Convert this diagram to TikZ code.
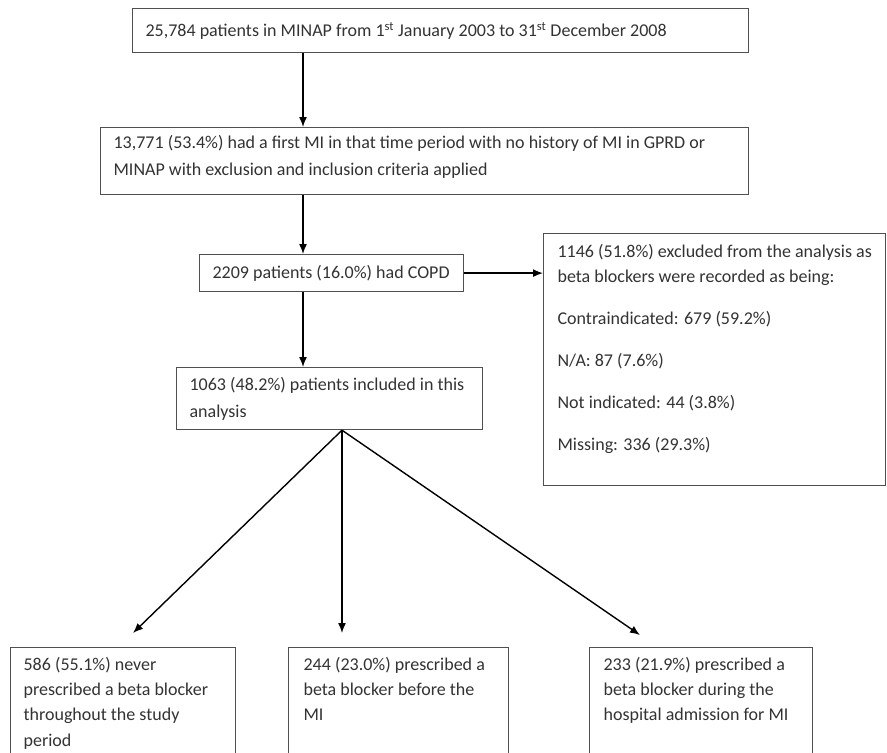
\documentclass[tikz,border=0pt]{standalone}
\usepackage{fontspec}
\setmainfont{Carlito}
\usetikzlibrary{arrows.meta,calc}
\definecolor{txt}{HTML}{333333}
\definecolor{frame}{HTML}{505050}
% width, height, top pad, left pad, baselineskip, content
\newcommand\bxt[6]{\begin{minipage}[t][#2][t]{#1}\fontsize{18pt}{#5}\selectfont\vspace*{#3}\leftskip=#4\relax\rightskip=0pt plus 1fil\relax\parindent=0pt\parfillskip=0pt plus 1fil\relax #6\end{minipage}}
\tikzset{
  bx/.style={draw=frame, line width=1.2pt, inner sep=0pt, text=txt, anchor=north west},
  arr/.style={draw=black, line width=1.4pt, -{Latex[length=10pt,width=8pt]}}
}
\begin{document}
\begin{tikzpicture}[x=1pt,y=-1pt]
\useasboundingbox[fill=white] (0,0) rectangle (887,753);
\clip (0,0) rectangle (887,753);

\node[bx] (b1) at (132,8) {\bxt{616pt}{44pt}{13.5pt}{13pt}{25pt}{25,784 patients in MINAP from 1\textsuperscript{st} January 2003 to 31\textsuperscript{st} December 2008}};
\node[bx] (b2) at (100,127) {\bxt{648pt}{67pt}{7.5pt}{13pt}{27pt}{13,771 (53.4\%) had a first MI in that time period with no history of MI in GPRD or\\MINAP with exclusion and inclusion criteria applied}};
\node[bx] (b3) at (199,254) {\bxt{264pt}{37pt}{10.5pt}{13pt}{25pt}{2209 patients (16.0\%) had COPD}};
\node[bx] (b4) at (543,233) {\bxt{342pt}{252pt}{10.5pt}{14pt}{25pt}{1146 (51.8\%) excluded from the analysis as\\beta blockers were recorded as being:\par\vspace{17pt}Contraindicated: 679 (59.2\%)\par\vspace{17pt}N/A: 87 (7.6\%)\par\vspace{17pt}Not indicated: 44 (3.8\%)\par\vspace{17pt}Missing: 336 (29.3\%)}};
\node[bx] (b5) at (176,367) {\bxt{306pt}{62pt}{9.5pt}{13pt}{27pt}{1063 (48.2\%) patients included in this\\analysis}};
\node[bx] (bA) at (10,647) {\bxt{225pt}{140pt}{9.5pt}{13pt}{25.3pt}{586 (55.1\%) never\\prescribed a beta blocker\\throughout the study\\period}};
\node[bx] (bB) at (288,647) {\bxt{220pt}{140pt}{9.5pt}{15pt}{25.3pt}{244 (23.0\%) prescribed a\\beta blocker before the\\MI}};
\node[bx] (bC) at (589,647) {\bxt{223pt}{140pt}{9.5pt}{14pt}{25.3pt}{233 (21.9\%) prescribed a\\beta blocker during the\\hospital admission for MI}};

\coordinate (ax) at (303,0);
\coordinate (sx) at (342,0);
\coordinate (src) at (b5.south -| sx);
\coordinate (tA) at (133,633);
\coordinate (tB) at (342,633);
\coordinate (tC) at (640,635);

\draw[arr] (b1.south -| ax) -- (b2.north -| ax);
\draw[arr] (b2.south -| ax) -- (b3.north -| ax);
\draw[arr] (b3.south -| ax) -- (b5.north -| ax);
\draw[arr] (b3.east) -- (b3.east -| b4.west);
\draw[arr] (src) -- (tA);
\draw[arr] (src) -- (tB);
\draw[arr] (src) -- (tC);
\end{tikzpicture}
\end{document}
